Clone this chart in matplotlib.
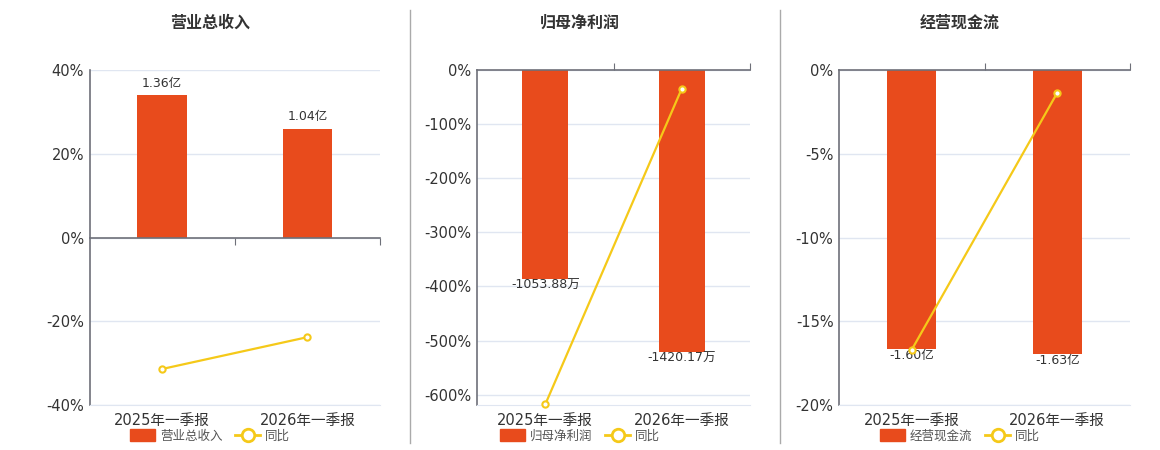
import matplotlib
matplotlib.use("Agg")
from matplotlib import pyplot as plt
from matplotlib.lines import Line2D
from matplotlib.patches import Patch

plt.rcParams['font.family'] = ['DejaVu Sans', 'Noto Sans CJK SC']

periods = ['2025年一季报', '2026年一季报']

titles = ['营业总收入', '归母净利润', '经营现金流']
bar_values = [[1.36, 1.04], [-1053.88, -1420.17], [-1.60, -1.63]]
bar_labels = [['1.36亿', '1.04亿'], ['-1053.88万', '-1420.17万'], ['-1.60亿', '-1.63亿']]
yoy_values = [[-31.4, -23.8], [-618.0, -34.5], [-16.7, -1.36]]
pct_ticks = [[-40, -20, 0, 20, 40],
             [-600, -500, -400, -300, -200, -100, 0],
             [-20, -15, -10, -5, 0]]
pct_limits = [(-40, 40), (-619, 0), (-20, 0)]
bar_limits = [(-1.6, 1.6), (-1690, 0), (-1.92, 0)]

BAR = '#e84b1c'
LINE = '#f5c919'
GRID = '#e0e6f1'
AXIS = '#6e7079'
W, H = 1160, 450

# panel geometry in pixels
lefts = [89.5, 477, 839]
widths = [290.5, 273, 291]
centers = [210, 580, 960]
top, bottom = 70, 405

fig = plt.figure(figsize=(W / 100, H / 100), dpi=100)

for i in range(3):
    rect = [lefts[i] / W, 1 - bottom / H, widths[i] / W, (bottom - top) / H]
    xs = range(len(periods))

    # grid / percent axis
    ax = fig.add_axes(rect)
    ax.set_xlim(-0.5, 1.5)
    ax.set_ylim(*pct_limits[i])
    ax.set_yticks(pct_ticks[i])
    ax.set_yticklabels([f'{t}%' for t in pct_ticks[i]])
    ax.set_xticks(list(xs))
    ax.set_xticklabels(periods)
    ax.tick_params(axis='both', length=0, labelsize=10.5, colors='#333333')
    ax.tick_params(axis='y', pad=4)
    ax.tick_params(axis='x', pad=6)
    ax.grid(axis='y', color=GRID, linewidth=1)
    ax.set_axisbelow(True)
    for s in ['top', 'right']:
        ax.spines[s].set_visible(False)
    ax.spines['bottom'].set_color(GRID)
    ax.spines['left'].set_color(AXIS)
    ax.spines['left'].set_linewidth(1.2)

    # bars on their own value scale
    axb = fig.add_axes(rect)
    axb.set_xlim(-0.5, 1.5)
    axb.set_ylim(*bar_limits[i])
    axb.axis('off')
    axb.bar(xs, bar_values[i], width=0.34, color=BAR)
    for x, v, lab in zip(xs, bar_values[i], bar_labels[i]):
        if v >= 0:
            axb.annotate(lab, (x, v), xytext=(0, 4), textcoords='offset points',
                         ha='center', va='bottom', fontsize=9, color='#333333')
        else:
            axb.annotate(lab, (x, v), xytext=(0, 0), textcoords='offset points',
                         ha='center', va='top', fontsize=9, color='#333333')

    # yoy line + zero axis
    axl = fig.add_axes(rect)
    axl.set_xlim(-0.5, 1.5)
    axl.set_ylim(*pct_limits[i])
    axl.patch.set_visible(False)
    axl.set_yticks([])
    for s in axl.spines.values():
        s.set_visible(False)
    axl.set_xticks([0.5, 1.5])
    axl.set_xticklabels([])
    if pct_limits[i][1] > 0:
        axl.spines['bottom'].set_position(('data', 0))
        axl.spines['bottom'].set_visible(True)
        axl.spines['bottom'].set_color(AXIS)
        axl.spines['bottom'].set_linewidth(1.2)
        axl.tick_params(axis='x', direction='out', length=5, color=AXIS)
    else:
        axl.xaxis.tick_top()
        axl.spines['top'].set_visible(True)
        axl.spines['top'].set_color(AXIS)
        axl.spines['top'].set_linewidth(1.2)
        axl.tick_params(axis='x', direction='out', length=5, color=AXIS)
    axl.plot(xs, yoy_values[i], color=LINE, linewidth=1.6, marker='o',
             markersize=4.5, markerfacecolor='white', markeredgecolor=LINE,
             markeredgewidth=1.5, clip_on=False)

    fig.text(centers[i] / W, 1 - 23 / H, titles[i], ha='center', va='center',
             fontsize=11.5, fontweight='bold', color='#333333')

    handles = [Patch(facecolor=BAR, edgecolor=BAR),
               Line2D([0], [0], color=LINE, linewidth=2, marker='o', markersize=9,
                      markerfacecolor='white', markeredgecolor=LINE, markeredgewidth=2)]
    fig.legend(handles, [titles[i], '同比'], loc='center',
               bbox_to_anchor=(centers[i] / W, 1 - 436 / H), ncol=2, frameon=False,
               fontsize=9, handlelength=2.0, handleheight=1.1, handletextpad=0.4,
               columnspacing=1.0, labelcolor='#555555')

for xpx in [410, 780]:
    fig.add_artist(Line2D([xpx / W, xpx / W], [1 - 443 / H, 1 - 10 / H],
                          transform=fig.transFigure, color='#aaaaaa', linewidth=1))

fig.savefig('out.png', dpi=100)
